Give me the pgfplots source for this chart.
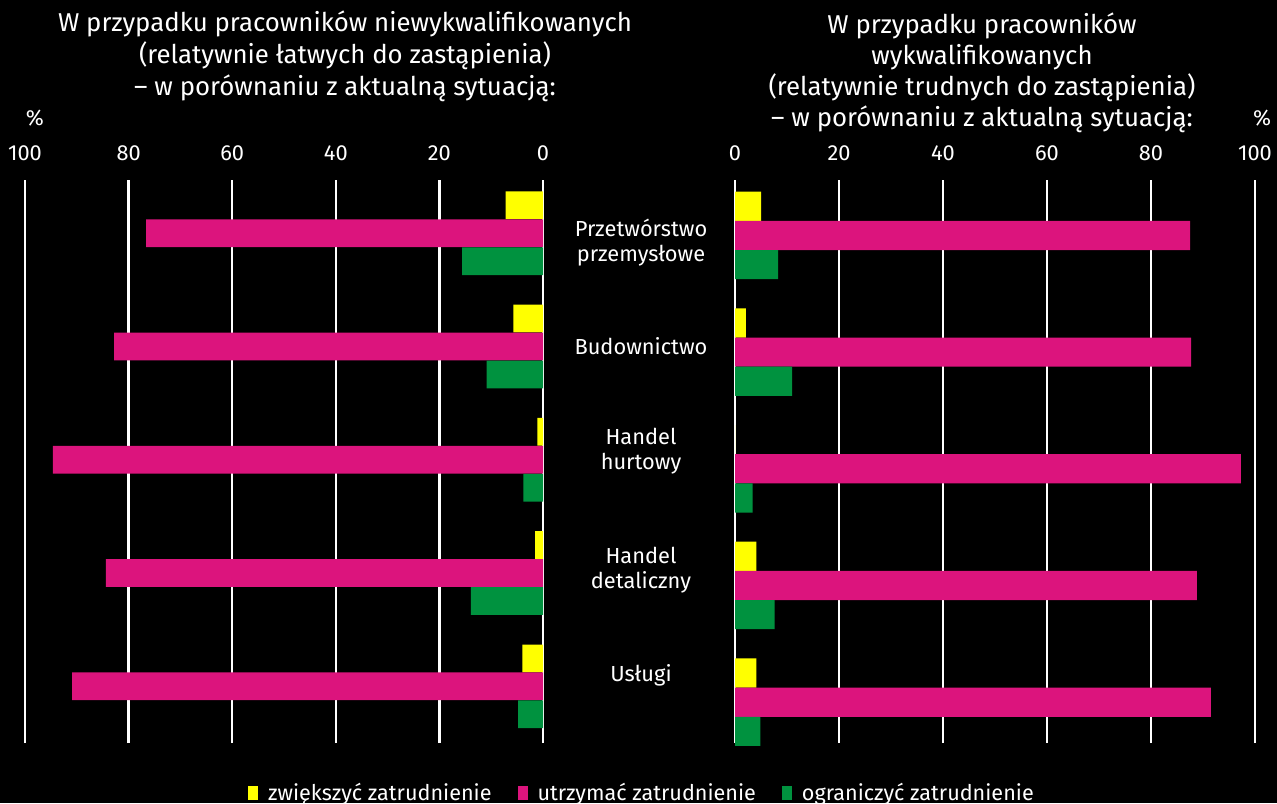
\documentclass[border=0pt]{standalone}
\usepackage{fontspec}
\setmainfont{Fira Sans}
\usepackage{pgfplots}
\pgfplotsset{compat=1.18}
\definecolor{cyel}{RGB}{255,255,0}
\definecolor{cmag}{RGB}{220,20,125}
\definecolor{cgrn}{RGB}{0,146,63}
\newcommand{\tfont}{\fontsize{10.9}{13}\selectfont}
\newcommand{\hfont}{\fontsize{12.9}{15}\selectfont}
\pgfplotsset{
  panel/.style={
    width=259pt, height=281.5pt, scale only axis,
    xmin=0, xmax=100, xtick={0,20,...,100},
    ytick=\empty,
    xmajorgrids, grid style={white, line width=1.2pt},
    axis line style={draw=none}, major tick length=0pt,
    xticklabel pos=upper,
    xticklabel style={text=white, font=\tfont, anchor=base, yshift=10pt},
    /pgf/number format/assume math mode=true,
    xbar, clip=false,
  }
}
\begin{document}
\begin{tikzpicture}
\fill[black] (0pt,0pt) rectangle (638.5pt,-401.5pt);

% left: unskilled workers
\begin{axis}[panel, at={(142pt,-230.75pt)}, anchor=center,
  x dir=reverse, ymin=-0.5, ymax=4.47, bar width=0.245]
\addplot[fill=cyel, draw=none, bar shift=0.247] coordinates {(7.2,4) (5.7,3) (1.1,2) (1.5,1) (4.0,0)};
\addplot[fill=cmag, draw=none, bar shift=0] coordinates {(76.6,4) (82.8,3) (94.6,2) (84.4,1) (90.9,0)};
\addplot[fill=cgrn, draw=none, bar shift=-0.247] coordinates {(15.6,4) (10.9,3) (3.8,2) (13.9,1) (4.8,0)};
\end{axis}

% right: skilled workers
\begin{axis}[panel, at={(497.5pt,-230.75pt)}, anchor=center, width=260pt,
  ymin=-0.35, ymax=4.475, bar width=0.25,
  legend columns=3,
  legend style={draw=none, fill=none, text=white, font=\fontsize{10.8}{13}\selectfont,
    at={(-0.177,-0.089)}, anchor=center,
    /tikz/every odd column/.append style={column sep=3pt},
    /tikz/every even column/.append style={column sep=11pt}},
  legend image code/.code={\fill[#1] (0pt,-3.5pt) rectangle (5pt,3.5pt);}]
\addplot[fill=cyel, draw=none, bar shift=0.25] coordinates {(5.0,4) (2.1,3) (0,2) (4.1,1) (4.1,0)};
\addplot[fill=cmag, draw=none, bar shift=0] coordinates {(87.5,4) (87.7,3) (97.3,2) (88.8,1) (91.5,0)};
\addplot[fill=cgrn, draw=none, bar shift=-0.25] coordinates {(8.3,4) (11.0,3) (3.4,2) (7.6,1) (4.9,0)};
\legend{zwiększyć zatrudnienie, utrzymać zatrudnienie, ograniczyć zatrudnienie}
\end{axis}

\begin{scope}[x=0.5pt, y=-0.5pt, every node/.style={text=white, font=\tfont, anchor=base, inner sep=0pt}]
\begin{scope}[every node/.append style={font=\hfont}]
\node at (345,32) {W przypadku pracowników niewykwalifikowanych};
\node at (345,63.5) {(relatywnie łatwych do zastąpienia)};
\node at (345,95) {– w porównaniu z aktualną sytuacją:};
\node at (982,33) {W przypadku pracowników};
\node at (982,64) {wykwalifikowanych};
\node at (982,95) {(relatywnie trudnych do zastąpienia)};
\node at (982,126) {– w porównaniu z aktualną sytuacją:};
\end{scope}
\node at (35,125) {\%};
\node at (1262,125) {\%};
\node at (641,236.7) {Przetwórstwo};
\node at (641,261.7) {przemysłowe};
\node at (641,354) {Budownictwo};
\node at (641,444) {Handel};
\node at (641,469) {hurtowy};
\node at (641,563) {Handel};
\node at (641,588) {detaliczny};
\node at (641,681) {Usługi};
\end{scope}

\pgfresetboundingbox
\path[use as bounding box] (0pt,0pt) rectangle (638.5pt,-401.5pt);
\end{tikzpicture}
\end{document}
